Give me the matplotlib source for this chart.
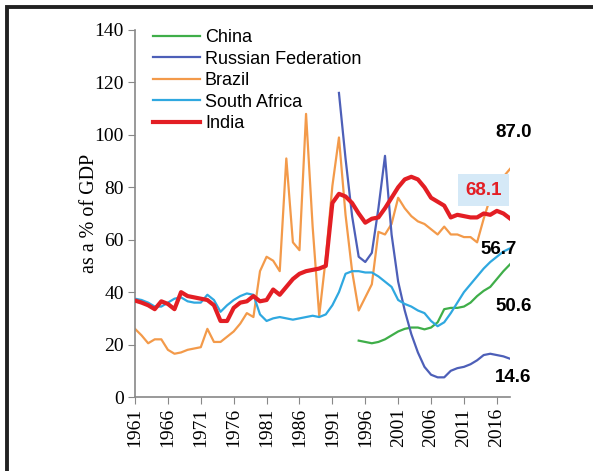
import matplotlib
matplotlib.use("Agg")
import matplotlib.pyplot as plt
from matplotlib.patches import Rectangle

# ── Data (as a % of GDP) ─────────────────────────────────────────────────────
years_all = list(range(1961, 2019))
years_rus = list(range(1992, 2019))
years_chn = list(range(1995, 2019))

india = [36.8, 36.0, 35.0, 33.5, 36.5, 35.5, 33.5, 40.0, 38.5, 38.0,
         37.5, 37.0, 35.0, 29.0, 29.0, 34.0, 36.0, 36.5, 38.5, 36.5,
         37.0, 41.0, 39.0, 42.0, 45.0, 47.0, 48.0, 48.5, 49.0, 50.0,
         74.0, 77.5, 76.5, 74.0, 70.0, 66.5, 68.0, 68.5, 72.0, 76.0,
         80.0, 83.0, 84.0, 83.0, 80.0, 76.0, 74.5, 73.0, 68.5, 69.5,
         69.0, 68.5, 68.5, 70.0, 69.5, 71.0, 70.0, 68.1]

brazil = [26.0, 23.5, 20.5, 22.0, 22.0, 18.0, 16.5, 17.0, 18.0, 18.5,
          19.0, 26.0, 21.0, 21.0, 23.0, 25.0, 28.0, 32.0, 30.5, 48.0,
          53.5, 52.0, 48.0, 91.0, 59.0, 56.0, 108.0, 65.0, 31.0, 53.0,
          80.5, 99.0, 69.5, 48.0, 33.0, 38.0, 43.0, 63.0, 62.0, 66.0,
          76.0, 72.0, 69.0, 67.0, 66.0, 64.0, 62.0, 65.0, 62.0, 62.0,
          61.0, 61.0, 59.0, 68.0, 76.0, 80.0, 84.0, 87.0]

south_africa = [37.5, 37.0, 36.0, 34.5, 34.5, 36.0, 37.5, 38.0, 36.5, 36.0,
                36.0, 39.0, 37.0, 32.5, 35.0, 37.0, 38.5, 39.5, 39.0, 31.5,
                29.0, 30.0, 30.5, 30.0, 29.5, 30.0, 30.5, 31.0, 30.5, 31.5,
                35.0, 40.0, 47.0, 48.0, 48.0, 47.5, 47.5, 46.0, 44.0, 42.0,
                37.0, 35.5, 34.5, 33.0, 32.0, 29.0, 27.0, 28.5, 32.0, 36.0,
                40.0, 43.0, 46.0, 49.0, 51.5, 53.5, 55.5, 56.7]

russia = [116.0, 91.0, 69.0, 53.5, 51.5, 55.0, 72.0, 92.0, 62.0, 44.0,
          33.0, 24.0, 17.0, 11.5, 8.5, 7.5, 7.5, 10.0, 11.0, 11.5,
          12.5, 14.0, 16.0, 16.5, 16.0, 15.5, 14.6]

china = [21.5, 21.0, 20.5, 21.0, 22.0, 23.5, 25.0, 26.0, 26.5, 26.5,
         25.8, 26.5, 28.5, 33.5, 34.0, 34.0, 34.5, 36.0, 38.5, 40.5,
         42.0, 45.0, 48.0, 50.6]

yticks = list(range(0, 141, 20))
xticks = list(range(1961, 2017, 5))

# ── Figure ───────────────────────────────────────────────────────────────────
fig = plt.figure(figsize=(5.93, 4.71), dpi=100)
ax = fig.add_axes([135 / 593, 1 - 397 / 471, (510 - 135) / 593, (397 - 30) / 471])

ax.plot(years_chn, china, color="#3fae49", lw=1.6, label="China", zorder=3)
ax.plot(years_rus, russia, color="#4d5fb8", lw=1.6, label="Russian Federation", zorder=3)
ax.plot(years_all, brazil, color="#f39a4a", lw=1.6, label="Brazil", zorder=2)
ax.plot(years_all, south_africa, color="#2fa8e0", lw=1.6, label="South Africa", zorder=3)
ax.plot(years_all, india, color="#e31e24", lw=3.0, label="India", zorder=4)

ax.set_xlim(1961, 2018)
ax.set_ylim(0, 140)
ax.set_yticks(yticks)
ax.set_xticks(xticks)

serif = "Liberation Serif"
ax.set_yticklabels([str(v) for v in yticks], fontfamily=serif, fontsize=14)
ax.set_xticklabels([str(v) for v in xticks], fontfamily=serif,
                   fontsize=14, rotation=90)
ax.tick_params(axis="both", direction="out", length=5, color="#888888", pad=3)
ax.set_ylabel("as a % of GDP", fontfamily=serif, fontsize=14.5, labelpad=-3)

for side in ("top", "right"):
    ax.spines[side].set_visible(False)
for side in ("left", "bottom"):
    ax.spines[side].set_color("#888888")
    ax.spines[side].set_linewidth(1.2)

ax.legend(loc="upper left", bbox_to_anchor=(0.03, 1.022), frameon=False,
          prop={"family": "Liberation Sans", "size": 13},
          handlelength=2.6, handletextpad=0.25, labelspacing=0.25,
          borderaxespad=0)

# ── End-value labels ────────────────────────────────────────────────────────
lab = dict(fontfamily="Liberation Sans", fontsize=13.5, fontweight="bold",
           ha="center", va="center")
ax.text(2018.5, 100.8, "87.0", color="black", **lab)
ax.text(2016.2, 56.3, "56.7", color="black", zorder=5, **lab)
ax.text(2018.5, 34.4, "50.6", color="black", **lab)
ax.text(2018.5, 7.6, "14.6", color="black", **lab)
ax.text(2014.0, 78.8, "68.1", color="#e31e24", zorder=6,
        bbox=dict(boxstyle="square,pad=0.4", facecolor="#d5e9f7", edgecolor="none"),
        **lab)

# outer frame of the original figure panel
fig.patches.append(Rectangle((7 / 593, -0.2), 1.2, 1 - 7 / 471 + 0.2,
                             transform=fig.transFigure, fill=False,
                             edgecolor="#222222", linewidth=2.8))

fig.savefig("out.png", dpi=100)
